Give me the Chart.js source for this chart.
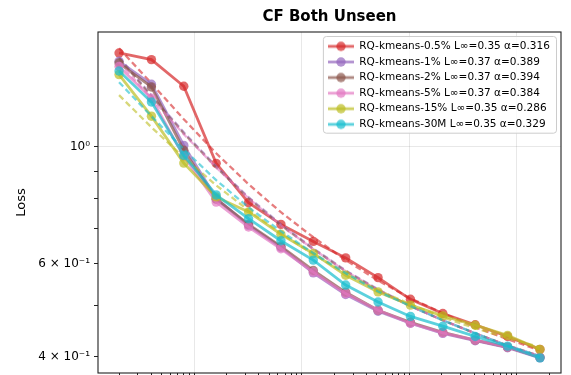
<!DOCTYPE html>
<html><head><meta charset="utf-8">
<script src="https://cdn.jsdelivr.net/npm/chart.js@4.4.1/dist/chart.umd.min.js"></script>
<style>html,body{margin:0;padding:0;background:#fff;}canvas{display:block;}</style>
</head><body>
<canvas id="c" width="571" height="375"></canvas>
<script>
// ---------- data ----------
const steps = [2, 4, 8, 16, 32, 64, 128, 256, 512, 1024, 2048, 4096, 8192, 16384];

const seriesLabels = [
  'RQ-kmeans-0.5% L∞=0.35 α=0.316',
  'RQ-kmeans-1% L∞=0.37 α=0.389',
  'RQ-kmeans-2% L∞=0.37 α=0.394',
  'RQ-kmeans-5% L∞=0.37 α=0.384',
  'RQ-kmeans-15% L∞=0.35 α=0.286',
  'RQ-kmeans-30M L∞=0.35 α=0.329'
];
const seriesColors = ['#d62728', '#9467bd', '#8c564b', '#e377c2', '#bcbd22', '#17becf'];

const loss_0_5pct = [1.508, 1.465, 1.304, 0.931, 0.784, 0.713, 0.662, 0.616, 0.565, 0.514, 0.483, 0.460, 0.437, 0.413];
const loss_1pct   = [1.454, 1.315, 1.007, 0.799, 0.710, 0.645, 0.577, 0.525, 0.488, 0.463, 0.443, 0.429, 0.416, 0.398];
const loss_2pct   = [1.443, 1.300, 0.986, 0.796, 0.713, 0.648, 0.583, 0.530, 0.490, 0.465, 0.445, 0.430, 0.417, 0.399];
const loss_5pct   = [1.422, 1.237, 0.960, 0.786, 0.705, 0.641, 0.579, 0.527, 0.490, 0.463, 0.444, 0.430, 0.417, 0.399];
const loss_15pct  = [1.372, 1.144, 0.932, 0.804, 0.753, 0.683, 0.628, 0.571, 0.531, 0.501, 0.478, 0.459, 0.439, 0.413];
const loss_30M    = [1.394, 1.217, 0.964, 0.811, 0.731, 0.664, 0.610, 0.547, 0.508, 0.477, 0.457, 0.437, 0.419, 0.398];

const fit_0_5pct = [1.539, 1.321, 1.129, 0.973, 0.850, 0.752, 0.674, 0.610, 0.558, 0.516, 0.484, 0.455, 0.432, 0.411];
const fit_1pct   = [1.480, 1.254, 1.066, 0.919, 0.803, 0.713, 0.642, 0.583, 0.537, 0.499, 0.469, 0.443, 0.420, 0.401];
const fit_2pct   = [1.474, 1.248, 1.061, 0.915, 0.799, 0.710, 0.640, 0.581, 0.535, 0.499, 0.469, 0.443, 0.420, 0.401];
const fit_5pct   = [1.448, 1.237, 1.057, 0.915, 0.799, 0.710, 0.640, 0.581, 0.535, 0.499, 0.469, 0.443, 0.420, 0.401];
const fit_15pct  = [1.254, 1.090, 0.956, 0.846, 0.758, 0.686, 0.626, 0.576, 0.535, 0.503, 0.475, 0.453, 0.434, 0.417];
const fit_30M    = [1.327, 1.144, 0.990, 0.865, 0.768, 0.692, 0.629, 0.576, 0.532, 0.499, 0.469, 0.443, 0.420, 0.401];

const yTickValues = [0.4, 0.5, 0.6, 0.7, 0.8, 0.9, 1];
const yTickLabels = ['4 × 10⁻¹', '', '6 × 10⁻¹', '', '', '', '10⁰'];
const xDecades = [1, 10, 100, 1000, 10000];
const xMultipliers = [1, 2, 3, 4, 5, 6, 7, 8, 9];
const xRange = [1.2746, 25712];
const yRange = [0.3725, 1.6527];

const titleText = 'CF Both Unseen';
const yTitle = 'Loss';

// ---------- build ----------
const lossSeries = [loss_0_5pct, loss_1pct, loss_2pct, loss_5pct, loss_15pct, loss_30M];
const fitSeries = [fit_0_5pct, fit_1pct, fit_2pct, fit_5pct, fit_15pct, fit_30M];

function rgba(hex, a) {
  const n = parseInt(hex.slice(1), 16);
  return `rgba(${(n >> 16) & 255},${(n >> 8) & 255},${n & 255},${a})`;
}
const FONT = 'DejaVu Sans';
const nS = seriesLabels.length;
const datasets = [];
seriesLabels.forEach((lab, i) => {
  const col = seriesColors[i];
  datasets.push({
    label: lab,
    data: steps.map((x, j) => ({x, y: lossSeries[i][j]})),
    borderColor: rgba(col, 0.7),
    backgroundColor: rgba(col, 0.7),
    pointBackgroundColor: rgba(col, 0.7),
    pointBorderColor: rgba(col, 0.7),
    pointBorderWidth: 0,
    pointRadius: 4.7,
    borderWidth: 2.8,
    tension: 0,
    order: 2 * (nS - i)
  });
  datasets.push({
    label: lab + ' fit',
    data: steps.map((x, j) => ({x, y: fitSeries[i][j]})),
    borderColor: rgba(col, 0.6),
    borderWidth: 2.3,
    borderDash: [6, 3.5],
    pointRadius: 0,
    tension: 0,
    order: 2 * (nS - i) - 1
  });
});

const xTicks = [];
xDecades.forEach(d => xMultipliers.forEach(m => {
  const v = d * m;
  if (v >= xRange[0] && v <= xRange[1]) xTicks.push(v);
}));
const isDecade = v => xDecades.some(d => Math.abs(v - d) < 1e-9 * d);

function makeIcon(col) {
  const c = document.createElement('canvas');
  c.width = 26; c.height = 12;
  const g = c.getContext('2d');
  g.strokeStyle = rgba(col, 0.7);
  g.lineWidth = 2.8;
  g.beginPath(); g.moveTo(0, 6); g.lineTo(26, 6); g.stroke();
  g.fillStyle = rgba(col, 0.7);
  g.beginPath(); g.arc(13, 6, 4.7, 0, Math.PI * 2); g.fill();
  return c;
}
const legendIcons = seriesColors.map(makeIcon);

const LEG_FONT = 10.5, LEG_PAD = 5.1, LEG_BOX = 26;
let legendFrame = null;
const legendPlace = {
  id: 'legendPlace',
  afterInit(chart) {
    const lg = chart.legend;
    lg._layers = () => [{
      z: 10,
      draw() {
        const ctx = chart.ctx, f = legendFrame;
        if (f) {
          ctx.save();
          ctx.beginPath();
          ctx.roundRect(f.x + 0.5, f.y + 0.5, f.w - 1, f.h - 1, 3);
          ctx.fillStyle = 'rgba(255,255,255,0.8)';
          ctx.fill();
          ctx.strokeStyle = '#cccccc';
          ctx.lineWidth = 1;
          ctx.stroke();
          ctx.restore();
        }
        lg.draw();
      }
    }];
  },
  afterLayout(chart) {
    const lg = chart.legend, ca = chart.chartArea, ctx = chart.ctx;
    ctx.save();
    ctx.font = LEG_FONT + 'px "' + FONT + '"';
    let mw = 0;
    seriesLabels.forEach(t => { mw = Math.max(mw, ctx.measureText(t).width); });
    ctx.restore();
    const w = 2 * LEG_PAD + LEG_BOX + LEG_FONT / 2 + mw + 2;
    const h = LEG_PAD + nS * (LEG_FONT + LEG_PAD) - 1;
    legendFrame = {x: ca.right - 4 - w, y: ca.top + 4, w, h};
    lg.right = ca.right - 4;
    lg.left = lg.right - w;
    lg.top = ca.top + 4;
    lg.bottom = lg.top + h + 8;
    lg.width = w; lg.height = h + 8;
  }
};

const frame = {
  id: 'frame',
  afterDraw(chart) {
    const {ctx, chartArea: a} = chart;
    ctx.save();
    ctx.strokeStyle = '#222';
    ctx.lineWidth = 1.1;
    ctx.strokeRect(a.left, a.top, a.right - a.left, a.bottom - a.top);
    ctx.restore();
  }
};

new Chart(document.getElementById('c'), {
  type: 'line',
  data: {datasets},
  plugins: [legendPlace, frame],
  options: {
    responsive: false,
    animation: false,
    devicePixelRatio: 1,
    events: [],
    layout: {autoPadding: false, padding: {left: 0, right: 10, top: 0, bottom: 0}},
    scales: {
      x: {
        type: 'logarithmic',
        position: 'bottom',
        min: xRange[0], max: xRange[1],
        ticks: {display: false},
        border: {display: false},
        grid: {
          color: c => (c.tick && isDecade(c.tick.value)) ? 'rgba(0,0,0,0.1)' : 'rgba(0,0,0,0)',
          tickColor: '#222',
          tickLength: 4,
          lineWidth: 0.9,
          tickWidth: 1
        },
        afterBuildTicks: s => { s.ticks = xTicks.map(v => ({value: v})); },
        afterFit: s => { s.height = 2; s.paddingLeft = 0; s.paddingRight = 0; }
      },
      y: {
        type: 'logarithmic',
        min: yRange[0], max: yRange[1],
        border: {display: false},
        grid: {
          color: c => (c.tick && Math.abs(c.tick.value - 1) < 1e-9) ? 'rgba(0,0,0,0.1)' : 'rgba(0,0,0,0)',
          tickColor: '#222',
          tickLength: 4,
          lineWidth: 0.9,
          tickWidth: 1
        },
        ticks: {
          autoSkip: false,
          padding: 4,
          color: '#000',
          font: {family: FONT, size: 12},
          callback: v => {
            const k = yTickValues.findIndex(t => Math.abs(t - v) < 1e-9);
            return k >= 0 ? yTickLabels[k] : '';
          }
        },
        title: {
          display: true,
          text: yTitle,
          color: '#000',
          font: {family: FONT, size: 13},
          padding: {top: 14.2, bottom: 0}
        },
        afterBuildTicks: s => { s.ticks = yTickValues.map(v => ({value: v})); },
        afterFit: s => { s.width = 98; s.paddingTop = 0; s.paddingBottom = 0; }
      }
    },
    plugins: {
      tooltip: {enabled: false},
      title: {
        display: true,
        text: titleText,
        fullSize: false,
        color: '#000',
        font: {family: FONT, size: 15, weight: 'bold'},
        padding: {top: 8, bottom: 6}
      },
      legend: {
        display: true,
        position: 'chartArea',
        align: 'start',
        labels: {
          usePointStyle: true,
          pointStyleWidth: LEG_BOX,
          padding: LEG_PAD,
          color: '#000',
          font: {family: FONT, size: LEG_FONT},
          generateLabels: () => seriesLabels.map((t, i) => ({
            text: t,
            fillStyle: rgba(seriesColors[i], 0.7),
            strokeStyle: rgba(seriesColors[i], 0.7),
            lineWidth: 0,
            pointStyle: legendIcons[i],
            hidden: false,
            datasetIndex: 2 * i,
            fontColor: '#000'
          }))
        }
      }
    }
  }
});
</script>
</body></html>
